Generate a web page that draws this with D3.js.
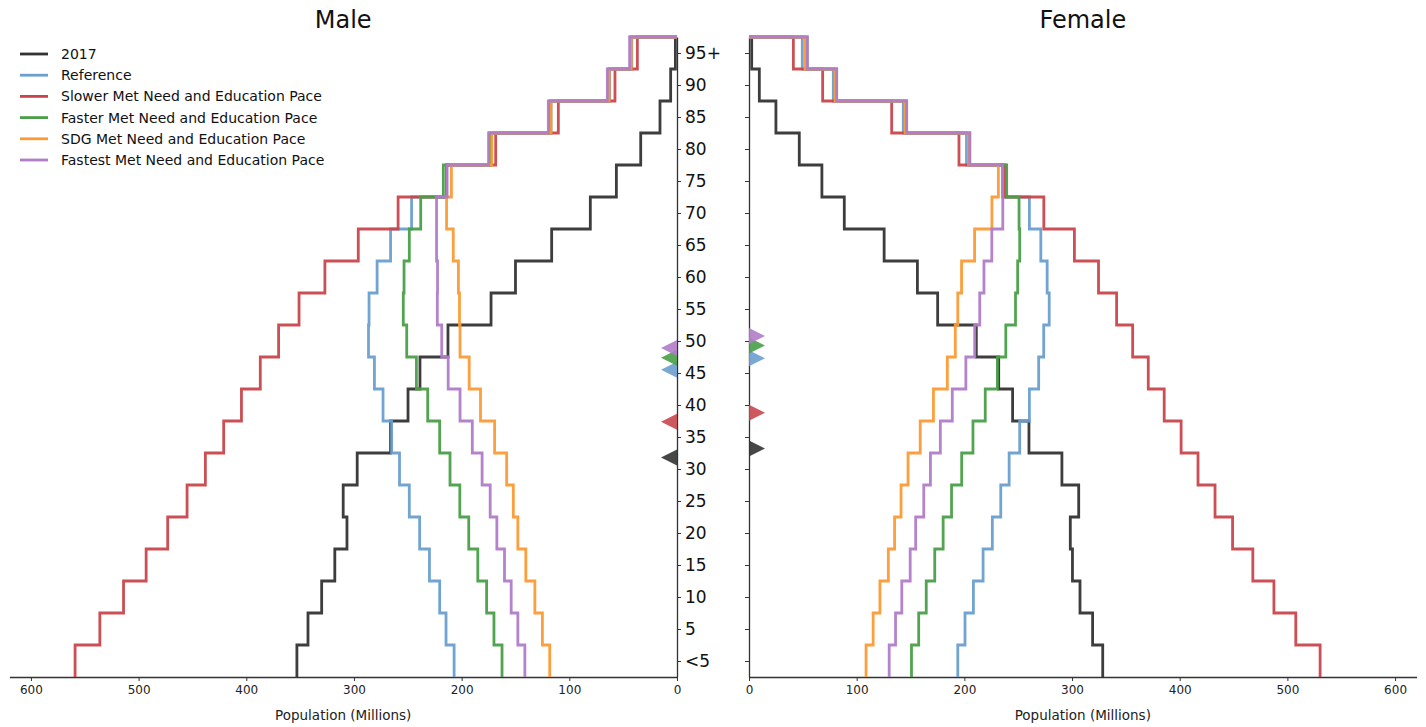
<!DOCTYPE html>
<html>
<head>
<meta charset="utf-8">
<script src="https://cdn.jsdelivr.net/npm/d3@7"></script>
<style>
  html, body { margin: 0; padding: 0; background: #fff; }
  svg { display: block; font-family: "DejaVu Sans", sans-serif; }
</style>
</head>
<body>
<svg id="chart" width="1426" height="727"></svg>
<script>
// ---- Data (population in millions, age groups <5 ... 95+) ----
const ageLabels = ["<5","5","10","15","20","25","30","35","40","45","50","55","60","65","70","75","80","85","90","95+"];
const xTicks = [0, 100, 200, 300, 400, 500, 600];
const seriesNames = ["2017", "Reference", "Slower Met Need and Education Pace", "Faster Met Need and Education Pace", "SDG Met Need and Education Pace", "Fastest Met Need and Education Pace"];
const seriesColors = ["#333333", "#6a9fd0", "#c8464b", "#4a9f48", "#fb9a35", "#b07cc8"];

const male2017     = [353, 342.7, 330, 317.8, 306.5, 310, 297, 266, 249.8, 238.7, 212.7, 172.7, 150, 116.4, 80.5, 56.3, 33.7, 15.8, 5.9, 1.5];
const maleRef      = [207, 214.5, 220.4, 229.9, 239, 248.6, 257.7, 265, 273, 281, 286.5, 286, 278.5, 266, 246.5, 214, 173, 117, 62.5, 42];
const maleSlower   = [559, 536, 514, 493, 473, 455, 438, 421, 404.5, 387, 370, 351, 327, 296, 259, 214, 168.4, 110.2, 57.6, 36.8];
const maleFaster   = [162.5, 170, 176.8, 185, 193.4, 201.7, 210.8, 220.4, 231.5, 242, 251, 254.2, 253.5, 248.6, 238, 217, 174, 118, 63.5, 43];
const maleSDG      = [118.2, 125, 132, 140.4, 147.8, 152, 158.2, 169.4, 182.5, 193, 201.5, 202, 203, 207.8, 214, 209.5, 172, 117, 63, 42.5];
const maleFastest  = [141.3, 147.8, 154, 160.2, 167.3, 173.5, 181, 190.1, 201.5, 212.5, 218.5, 222.6, 222.4, 223.3, 223.3, 213.5, 175, 119.5, 64.7, 44];

const female2017    = [328.5, 319.1, 307.4, 300.4, 298.4, 306.2, 290.6, 260, 244.8, 231.9, 211.1, 175.2, 156.4, 125.5, 88.5, 67.7, 46.7, 25, 9.6, 2.5];
const femaleRef     = [193.9, 200.6, 208.4, 217.4, 226, 233.8, 241.6, 251.4, 260.4, 269, 273.7, 278.8, 276.9, 271, 260.4, 235.5, 202, 143.3, 78.3, 49.5];
const femaleSlower  = [530.4, 507.8, 487.5, 467.9, 449.1, 432.8, 417, 401.3, 385.6, 370.8, 356.3, 341.4, 324.6, 302.2, 273.8, 238, 195, 132.5, 68.4, 41.2];
const femaleFaster  = [150.9, 157.6, 164.6, 172.5, 180.3, 188.1, 197.5, 208, 219.4, 230.7, 238.5, 247.5, 249.5, 251.4, 250.8, 239.3, 205, 146.4, 81.4, 54];
const femaleSDG     = [108.7, 115.3, 121.6, 129.4, 135.2, 141.2, 147.7, 159, 171.3, 184.2, 191.6, 193.9, 197.4, 209.5, 225.6, 231.6, 204, 145, 80, 52];
const femaleFastest = [130.2, 136.1, 141.9, 149.7, 154.8, 162.3, 168.5, 177.7, 188.8, 201.4, 209.6, 214.3, 218.2, 225.5, 235.7, 235.5, 205, 146.4, 81.4, 54.2];

// median ages (markers), in same age units as the y axis
const maleMedians   = [34.3, 48.0, 39.9, 49.9, null, 51.4];
const femaleMedians = [35.7, 49.8, 41.3, 51.8, null, 53.3];

const maleSeries   = [male2017, maleRef, maleSlower, maleFaster, maleSDG, maleFastest];
const femaleSeries = [female2017, femaleRef, femaleSlower, femaleFaster, femaleSDG, femaleFastest];

// ---- Layout ----
const svg = d3.select("#chart");
const yTop = 37, yBottom = 677;
const y = d3.scaleLinear().domain([0, 100]).range([yBottom, yTop]);
const xMale = d3.scaleLinear().domain([0, 620]).range([677, 9.4]);
const xFemale = d3.scaleLinear().domain([0, 620]).range([749, 1416.6]);

function drawPanel(x, series, medians, side, title) {
  const g = svg.append("g");
  // bottom axis
  const ax = g.append("g").attr("transform", `translate(0,${yBottom})`)
    .call(d3.axisBottom(x).tickValues(xTicks).tickSize(4).tickPadding(4).tickSizeOuter(0));
  ax.select(".domain").attr("stroke", "#333").attr("stroke-width", 1.3);
  ax.selectAll(".tick line").attr("stroke", "#333").attr("stroke-width", 1);
  ax.selectAll(".tick text").attr("font-size", 12).attr("fill", "#222").attr("font-family", "DejaVu Sans");
  const xr = x.range();
  const cx = (xr[0] + xr[1]) / 2;
  g.append("text").attr("x", cx).attr("y", 720).attr("text-anchor", "middle")
    .attr("font-size", 13.5).attr("fill", "#222").text("Population (Millions)");
  g.append("text").attr("x", cx).attr("y", 28).attr("text-anchor", "middle")
    .attr("font-size", 24).attr("fill", "#111").text(title);

  // vertical (age) axis
  const tickPos = ageLabels.map((d, i) => i * 5 + 2.5);
  const yAxis = side === "male"
    ? d3.axisRight(y).tickValues(tickPos).tickFormat((d, i) => ageLabels[i]).tickSize(4).tickPadding(4).tickSizeOuter(0)
    : d3.axisLeft(y).tickValues(tickPos).tickFormat(() => "").tickSize(4).tickSizeOuter(0);
  const ay = g.append("g").attr("transform", `translate(${x(0)},0)`).call(yAxis);
  ay.select(".domain").attr("stroke", "#333").attr("stroke-width", 1.3);
  ay.selectAll(".tick line").attr("stroke", "#333").attr("stroke-width", 1);
  ay.selectAll(".tick text").attr("font-size", 17).attr("fill", "#111").attr("font-family", "DejaVu Sans");

  // step lines
  const line = d3.line().x(d => x(d[0])).y(d => y(d[1])).curve(d3.curveStepBefore);
  series.forEach((vals, k) => {
    const pts = vals.map((v, i) => [v, i * 5]);
    pts.push([0, 100]);
    g.append("path").datum(pts).attr("d", line)
      .attr("fill", "none").attr("stroke", seriesColors[k]).attr("stroke-width", 2.8)
      .attr("stroke-linejoin", "miter").attr("opacity", 0.95);
  });

  // median markers
  const dir = side === "male" ? -1 : 1;
  medians.forEach((m, k) => {
    if (m == null) return;
    const x0 = x(0), yy = y(m);
    g.append("path")
      .attr("d", `M${x0},${yy - 8}L${x0 + dir * 16},${yy}L${x0},${yy + 8}Z`)
      .attr("fill", seriesColors[k]).attr("opacity", 0.9);
  });
}

drawPanel(xMale, maleSeries, maleMedians, "male", "Male");
drawPanel(xFemale, femaleSeries, femaleMedians, "female", "Female");

// legend
const lg = svg.append("g");
seriesNames.forEach((name, k) => {
  const yy = 54 + k * 21.2;
  lg.append("line").attr("x1", 20).attr("x2", 48).attr("y1", yy).attr("y2", yy)
    .attr("stroke", seriesColors[k]).attr("stroke-width", 2.8);
  lg.append("text").attr("x", 61).attr("y", yy).attr("dy", "0.35em")
    .attr("font-size", 14).attr("fill", "#111").text(name);
});
</script>
</body>
</html>
